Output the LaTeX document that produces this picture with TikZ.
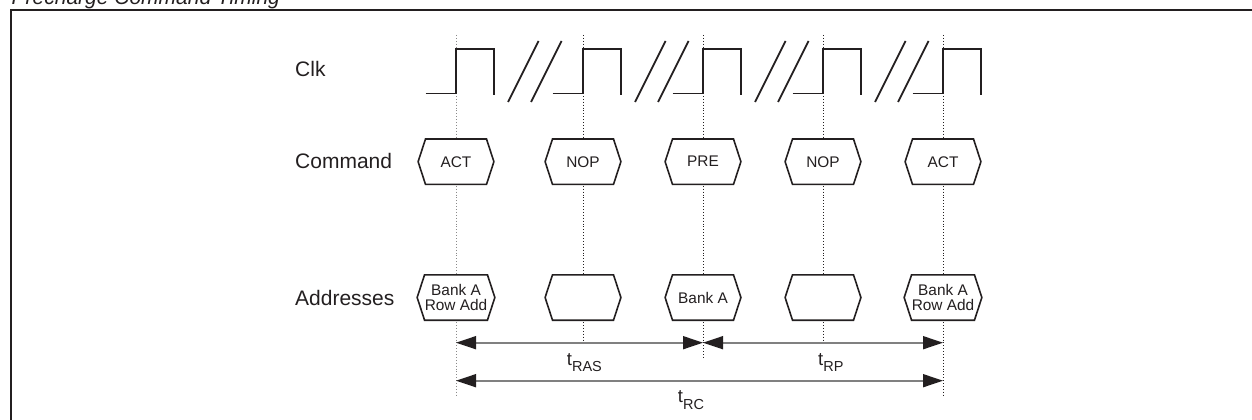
\documentclass[tikz,border=0pt]{standalone}
\usepackage{fontspec}
\setmainfont{Liberation Sans}
\usetikzlibrary{arrows.meta,backgrounds}
\definecolor{ink}{HTML}{231F20}
\definecolor{dimgray}{HTML}{808080}
\definecolor{guidegray}{HTML}{8A8A8A}
\tikzset{
  lbl/.style={anchor=base west, text=ink, inner sep=0pt, font=\fontsize{21}{25}\selectfont},
  hexbox/.style={minimum width=60.6pt, minimum height=45pt, inner sep=0pt, align=center, text=ink,
    font=\fontsize{15.4}{15}\selectfont},
  hexline/.style={draw=ink, fill=white, line width=1.6pt, line join=miter},
  clkline/.style={draw=ink, line width=1.8pt},
  guide/.style={draw=ink, line width=0.9pt, dash pattern=on 0.9pt off 2pt},
  guidelight/.style={guide, draw=guidegray},
  dim/.style={draw=dimgray, line width=1.6pt, {Triangle[length=20pt,width=13pt,color=ink]}-{Triangle[length=20pt,width=13pt,color=ink]}},
  tlab/.style={anchor=base west, inner sep=0pt, text=ink}
}
\newcommand{\tsub}[1]{{\fontsize{18.5}{22}\selectfont t}\raisebox{-6.7pt}{\fontsize{14.5}{17}\selectfont #1}}
\begin{document}
\begin{tikzpicture}[x=1pt,y=-1pt]
\useasboundingbox (0,0) rectangle (1252,420);
% frame and title
\draw[ink, line width=2.4pt] (11,440) -- (11,10) -- (1270,10);
\node[lbl, font=\fontsize{21}{25}\selectfont\itshape] (title) at (11.5,5) {Precharge Command Timing};
% row labels
\node[lbl] (clk) at (295,77) {Clk};
\node[lbl] (cmd) at (295,168.3) {Command};
\node[lbl] (adr) at (295,305) {Addresses};
% command boxes
\node[hexbox] (c1) at (456,161.7) {ACT};
\node[hexbox] (c2) at (583,161.7) {NOP};
\node[hexbox] (c3) at (703,161.7) {PRE};
\node[hexbox] (c4) at (823,161.7) {NOP};
\node[hexbox] (c5) at (943,161.7) {ACT};
% address boxes
\node[hexbox] (d1) at (456,297.5) {Bank A\\Row Add};
\node[hexbox] (d2) at (583,297.5) {};
\node[hexbox] (d3) at (703,297.5) {Bank A};
\node[hexbox] (d4) at (823,297.5) {};
\node[hexbox] (d5) at (943,297.5) {Bank A\\Row Add};
% clock waveform
\foreach \x in {456,583,703,823,943}{
  \draw[clkline, line join=miter] (\x-30.3,93.5) -- (\x,93.5) -- (\x,49) -- (\x+38,49) -- (\x+38,94.5);
}
\foreach \x in {456,583,703,823}{
  \draw[clkline] (\x+52,102) -- (\x+82.5,41);
  \draw[clkline] (\x+75,102) -- (\x+105.5,41);
}
% guide line end points
\coordinate (g1t) at (456,35); \coordinate (g1b) at (456,395);
\coordinate (g2t) at (583,35); \coordinate (g2b) at (583,341);
\coordinate (g3t) at (703,35); \coordinate (g3b) at (703,357);
\coordinate (g4t) at (823,35); \coordinate (g4b) at (823,341);
\coordinate (g5t) at (943,35); \coordinate (g5b) at (943,395);
% dimension arrows
\coordinate (r1) at (456,342.7);
\coordinate (r2) at (703,342.7);
\coordinate (r3) at (943,342.7);
\coordinate (s1) at (456,380.7);
\coordinate (s2) at (943,380.7);
\draw[dim] (r1) -- (r2);
\draw[dim] (r2) -- (r3);
\draw[dim] (s1) -- (s2);
\node[tlab] (tras) at (566.7,365) {\tsub{RAS}};
\node[tlab] (trp) at (818,365) {\tsub{RP}};
\node[tlab] (trc) at (677.7,402.3) {\tsub{RC}};
\begin{scope}[on background layer]
  \draw[guidelight] (g1t) -- (g1b);
  \draw[guide] (g2t) -- (g2b);
  \draw[guide] (g3t) -- (g3b);
  \draw[guide] (g4t) -- (g4b);
  \draw[guide] (g5t) -- (g5b);
  \foreach \n in {c1,c2,c3,c4,c5,d1,d2,d3,d4,d5}{
    \draw[hexline] (\n.north west) -- (\n.north east) -- ([xshift=7.4pt]\n.east)
      -- (\n.south east) -- (\n.south west) -- ([xshift=-7.4pt]\n.west) -- cycle;
  }
\end{scope}
\end{tikzpicture}
\end{document}
